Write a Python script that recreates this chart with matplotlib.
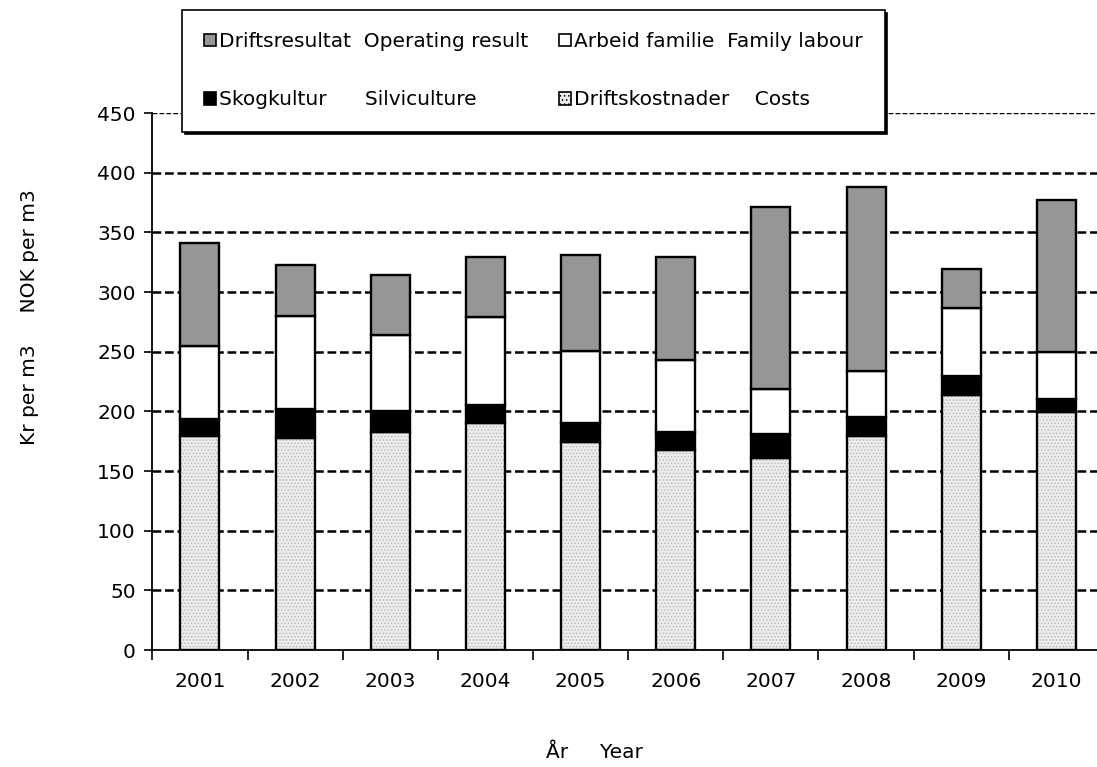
import numpy as np
import matplotlib
matplotlib.use('Agg')
import matplotlib.pyplot as plt
from matplotlib.patches import Patch

years = ['2001', '2002', '2003', '2004', '2005', '2006', '2007', '2008', '2009', '2010']
costs = [179, 178, 182.5, 190, 174.5, 168, 161, 179, 214, 199.5]
silviculture = [15, 24, 17.5, 15.5, 16, 14.5, 20, 16, 16, 11]
family_labour = [61, 78, 64, 73.5, 60.5, 60.5, 38, 39, 57, 39]
operating_result = [86, 42.5, 50, 50, 80, 86, 152, 154, 32.5, 127.5]

labels = ['Driftskostnader    Costs', 'Skogkultur      Silviculture',
          'Arbeid familie  Family labour', 'Driftsresultat  Operating result']

plt.rcParams['font.family'] = ['DejaVu Sans']
plt.rcParams['font.size'] = 14.5
plt.rcParams['hatch.linewidth'] = 0.6

fig = plt.figure(figsize=(10.97, 7.67), dpi=100)
ax = fig.add_axes([0.1389, 0.1525, 0.8674, 0.7001])

x = np.arange(len(years))
w = 0.41
costs = np.array(costs)
silviculture = np.array(silviculture)
family_labour = np.array(family_labour)
operating_result = np.array(operating_result)

# grid first so bars sit on top
for v in range(50, 451, 50):
    ax.axhline(v, color='black', lw=1.0 if v == 450 else 1.8,
               linestyle=(0, (3.5, 1.5)), zorder=1)

# costs: dotted light gray, drawn twice to get gray hatch and black outline
ax.bar(x, costs, w, color='#ececec', hatch='.....', edgecolor='#b8b8b8', lw=0, zorder=2)
ax.bar(x, costs, w, fill=False, edgecolor='black', lw=1.7, zorder=3)
b1 = costs
ax.bar(x, silviculture, w, bottom=b1, color='black', edgecolor='black', lw=1.7, zorder=3)
b2 = b1 + silviculture
ax.bar(x, family_labour, w, bottom=b2, color='white', edgecolor='black', lw=1.7, zorder=3)
b3 = b2 + family_labour
ax.bar(x, operating_result, w, bottom=b3, color='#969696', edgecolor='black', lw=1.7, zorder=3)

ax.set_xlim(-0.5, len(years) - 0.5)
ax.set_ylim(0, 450)
ax.set_yticks(range(0, 451, 50))
ax.set_xticks(x)
ax.set_xticklabels(years)
ax.set_xticks(np.arange(-0.5, len(years), 1), minor=True)
ax.tick_params(axis='x', which='major', length=0, pad=16)
ax.tick_params(axis='x', which='minor', length=7, width=1.2, direction='out')
ax.tick_params(axis='y', length=6, width=1.2, direction='out', pad=6)

for s in ['top', 'right']:
    ax.spines[s].set_visible(False)
ax.spines['left'].set_linewidth(1.3)
ax.spines['bottom'].set_linewidth(1.3)
ax.spines['bottom'].set_zorder(4)

# legend: order gives rows (Driftsresultat, Arbeid familie) / (Skogkultur, Driftskostnader)
h_cost = Patch(facecolor='#ececec', hatch='....', edgecolor='black', lw=1.2)
h_silv = Patch(facecolor='black', edgecolor='black', lw=1.2)
h_fam = Patch(facecolor='white', edgecolor='black', lw=1.2)
h_op = Patch(facecolor='#969696', edgecolor='black', lw=1.2)
leg = fig.legend([h_op, h_silv, h_fam, h_cost],
                 [labels[3], labels[1], labels[2], labels[0]],
                 ncol=2, loc='upper left', bbox_to_anchor=(182 / 1097, 1 - 10 / 767),
                 frameon=True, fancybox=False, shadow={'color': 'black', 'alpha': 1},
                 handlelength=0.6, handleheight=0.6, handletextpad=0.15,
                 labelspacing=1.95, columnspacing=1.5, borderpad=1.1, borderaxespad=0)
leg.get_frame().set_edgecolor('black')
leg.get_frame().set_linewidth(1.2)

fig.text(30 / 1097, 1 - 317 / 767, 'Kr per m3     NOK per m3', rotation=90,
         ha='center', va='center')
fig.text(594 / 1097, 1 - 752 / 767, 'År     Year', ha='center', va='center')

fig.savefig('out.png', dpi=100)
